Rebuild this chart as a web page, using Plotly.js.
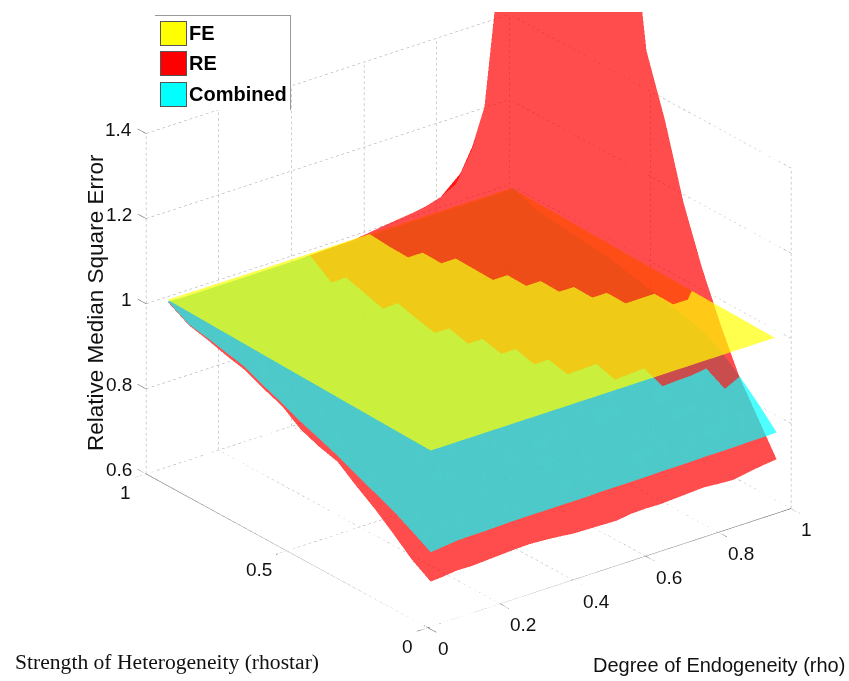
<!DOCTYPE html>
<html><head><meta charset="utf-8"><script src="https://cdn.plot.ly/plotly-3.0.1.min.js"></script>
<style>html,body{margin:0;padding:0;background:#fff}#g{width:849px;height:681px}</style></head><body><div id="g"></div>
<script>
const rhoVals=[.008,.04,.08,.12,.16,.2,.24,.28,.32,.36,.4,.44,.48,.52,.56,.6,.64,.68,.72,.76,.8,.84,.88,.92,.96];
const rstarVals=[0,.066,.132,.198,.264,.33,.396,.462,.528,.594,.66,.726,.792,.858,.934];
const feRho=[.008,.48,.955];
const feRstar=[0,.462,.934];
const feZ=[[1.014,1.014,1.014],[1.022,1.021,1.020],[1.031,1.030,1.028]];
const combZ=[
[.775,.778,.782,.783,.783,.784,.785,.785,.785,.785,.785,.785,.786,.786,.786,.786,.787,.787,.787,.788,.788,.788,.789,.789,.790],
[.800,.801,.801,.802,.803,.804,.804,.805,.806,.807,.808,.809,.811,.812,.813,.813,.814,.815,.815,.816,.818,.820,.823,.828,.835],
[.824,.825,.825,.827,.828,.828,.829,.830,.831,.833,.835,.836,.838,.839,.840,.841,.843,.843,.844,.846,.847,.850,.850,.856,.875],
[.843,.844,.845,.846,.847,.848,.849,.850,.852,.854,.855,.858,.860,.862,.863,.865,.866,.867,.868,.869,.872,.874,.875,.880,.910],
[.862,.863,.864,.864,.866,.867,.868,.868,.870,.872,.874,.877,.879,.880,.882,.883,.885,.885,.886,.888,.890,.892,.890,.900,.935],
[.882,.883,.883,.884,.884,.884,.885,.886,.887,.889,.890,.891,.893,.894,.896,.897,.897,.898,.899,.901,.904,.909,.917,.928,.945],
[.899,.900,.899,.900,.900,.900,.900,.900,.901,.903,.903,.905,.906,.907,.908,.908,.908,.910,.911,.914,.917,.921,.928,.939,.955],
[.915,.914,.915,.914,.915,.914,.915,.914,.915,.916,.917,.918,.919,.919,.920,.920,.921,.923,.924,.926,.929,.934,.940,.950,.965],
[.935,.934,.934,.933,.932,.932,.931,.931,.931,.931,.931,.931,.931,.931,.931,.933,.934,.936,.937,.939,.942,.946,.952,.961,.975],
[.952,.951,.950,.949,.948,.947,.946,.945,.945,.944,.944,.944,.944,.943,.945,.947,.948,.949,.950,.952,.955,.958,.964,.973,.985],
[.972,.970,.968,.967,.965,.963,.961,.959,.958,.957,.956,.955,.954,.955,.957,.958,.959,.960,.961,.962,.965,.968,.972,.980,.990],
[.982,.980,.979,.977,.974,.973,.971,.970,.968,.966,.966,.964,.966,.967,.968,.969,.970,.971,.971,.973,.974,.977,.981,.987,.995],
[.992,.991,.989,.988,.986,.984,.983,.981,.980,.979,.978,.977,.978,.979,.980,.981,.981,.982,.983,.984,.985,.987,.989,.994,1.000],
[1.000,.998,.998,.996,.996,.994,.993,.992,.991,.990,.989,.990,.990,.991,.992,.992,.992,.993,.993,.994,.995,.996,.998,1.001,1.005],
[1.028,1.025,1.025,1.025,1.025,1.025,1.025,1.025,1.025,1.025,1.025,1.025,1.025,1.025,1.025,1.025,1.025,1.025,1.025,1.025,1.025,1.025,1.025,1.025,1.026]];
const reZ=[
[.706,.708,.712,.711,.713,.715,.717,.718,.716,.713,.709,.708,.707,.706,.711,.712,.711,.713,.715,.717,.714,.712,.718,.723,.727],
[.733,.735,.737,.739,.740,.742,.744,.746,.747,.750,.751,.753,.754,.757,.758,.760,.763,.765,.767,.770,.773,.777,.782,.790,.800],
[.770,.772,.773,.775,.776,.778,.780,.781,.783,.784,.786,.787,.789,.791,.793,.795,.797,.800,.803,.806,.811,.817,.827,.840,.873],
[.805,.807,.809,.810,.812,.814,.816,.818,.819,.821,.823,.825,.827,.828,.831,.834,.837,.841,.845,.851,.858,.867,.872,.900,.970],
[.835,.836,.837,.838,.839,.842,.843,.845,.847,.849,.851,.853,.855,.858,.861,.865,.869,.873,.878,.886,.900,.925,.970,1.025,1.080],
[.868,.869,.870,.872,.873,.874,.875,.876,.878,.879,.880,.881,.882,.884,.885,.886,.888,.893,.904,.925,.970,1.040,1.085,1.135,1.210],
[.880,.881,.883,.884,.886,.888,.890,.891,.894,.895,.896,.898,.899,.901,.902,.905,.908,.925,.965,1.020,1.070,1.120,1.170,1.240,1.380],
[.897,.898,.900,.901,.903,.904,.906,.907,.909,.910,.912,.913,.915,.916,.918,.919,.928,.950,1.015,1.065,1.120,1.175,1.240,1.320,1.520],
[.928,.928,.928,.928,.928,.929,.929,.929,.929,.929,.930,.930,.930,.930,.931,.940,.965,1.012,1.060,1.120,1.180,1.250,1.330,1.430,1.900],
[.945,.944,.944,.943,.943,.942,.942,.942,.942,.941,.941,.941,.941,.943,.950,.970,1.000,1.040,1.100,1.170,1.240,1.320,1.420,1.540,2.100],
[.965,.963,.962,.960,.959,.957,.956,.955,.954,.953,.952,.952,.953,.960,.975,.995,1.020,1.060,1.120,1.190,1.270,1.360,1.470,1.610,2.200],
[.975,.974,.973,.971,.969,.968,.966,.965,.964,.963,.963,.962,.970,.980,1.000,1.020,1.040,1.075,1.130,1.200,1.280,1.370,1.480,1.650,2.250],
[.988,.987,.985,.984,.982,.980,.979,.977,.976,.975,.975,.976,.984,.993,1.020,1.035,1.045,1.075,1.120,1.190,1.270,1.370,1.490,1.700,2.280],
[.998,.996,.995,.994,.993,.992,.991,.990,.989,.988,.989,.992,.998,1.015,1.030,1.038,1.045,1.060,1.095,1.150,1.220,1.320,1.460,1.760,2.300],
[1.026,1.024,1.024,1.024,1.024,1.024,1.024,1.024,1.024,1.024,1.026,1.027,1.028,1.029,1.033,1.038,1.042,1.046,1.052,1.062,1.080,1.140,1.240,1.550,2.300]];
const rhoTicks=[0,.2,.4,.6,.8,1];
const rstarTicks=[0,.5,1];
const zTicks=[.6,.8,1,1.2,1.4];
const rhoLabels=['0','0.2','0.4','0.6','0.8','1'];
const rstarLabels=['0','0.5','1'];
const zLabels=['0.6','0.8','1','1.2','1.4'];
const legendNames=['FE','RE','Combined'];
const legendColors=['#ffff00','#ff0000','#00ffff'];

const zMin=.6,zMax=1.4,zTop=2.4;
const flatLight={ambient:1,diffuse:0,specular:0,fresnel:0,roughness:1};
function meshFrom(xs,ys,zs,keep,color){
  const x=[],y=[],z=[],i=[],j=[],k=[];
  ys.forEach((yv,a)=>xs.forEach((xv,b)=>{x.push(xv);y.push(yv);z.push(zs[a][b]);}));
  const n=xs.length;
  for(let a=0;a<ys.length-1;a++)for(let b=0;b<n-1;b++){
    if(!keep(a,b))continue;
    const p=a*n+b,q=p+1,r=p+n,s=r+1;
    i.push(p,p);j.push(q,s);k.push(s,r);
  }
  return {type:'mesh3d',x,y,z,i,j,k,color,opacity:.7,flatshading:true,lighting:flatLight,hoverinfo:'skip',showscale:false};
}
const cellMean=(m,a,b)=>(m[a][b]+m[a][b+1]+m[a+1][b]+m[a+1][b+1])/4;
const feAt=r=>{const c=r<feRstar[1]?0:1,t=(r-feRstar[c])/(feRstar[c+1]-feRstar[c]);return feZ[c][1]+(feZ[c+1][1]-feZ[c][1])*t;};
const reClass=(a,b)=>cellMean(reZ,a,b)<cellMean(combZ,a,b)?0:(cellMean(reZ,a,b)>feAt((rstarVals[a]+rstarVals[a+1])/2)?2:1);
const lastRow=rstarVals.length-1,lastCol=rhoVals.length-1;
// Painter order needs RE in three layers; vertices on a layer boundary sit on the surface it crosses.
const reShown=reZ.map((row,a)=>row.map((v,b)=>{
  if(a===lastRow||b===lastCol)return v;
  const seen=[0,0,0];
  [[a,b],[a,b-1],[a-1,b],[a-1,b-1]].forEach(c=>{if(c[0]>=0&&c[1]>=0)seen[reClass(c[0],c[1])]=1;});
  if(seen[2]&&(seen[0]||seen[1]))return feAt(rstarVals[a]);
  if(seen[0]&&seen[1])return combZ[a][b];
  return v;
}));
const traces=[
  meshFrom(rhoVals,rstarVals,reShown,(a,b)=>reClass(a,b)===0,'#ff0000'),
  meshFrom(rhoVals,rstarVals,combZ,()=>true,'#00ffff'),
  meshFrom(rhoVals,rstarVals,reShown,(a,b)=>reClass(a,b)===1,'#ff0000'),
  meshFrom(feRho,feRstar,feZ,()=>true,'#ffff00'),
  meshFrom(rhoVals,rstarVals,reShown,(a,b)=>reClass(a,b)===2,'#ff0000')
];
function linesTrace(segs,color,width){
  const x=[],y=[],z=[];
  segs.forEach(s=>{x.push(s[0],s[3],null);y.push(s[1],s[4],null);z.push(s[2],s[5],null);});
  return {type:'scatter3d',mode:'lines',x,y,z,line:{color,width},hoverinfo:'skip',showlegend:false,connectgaps:false};
}
const dotRho=.0075,dotR=.009,dotZ=.0065;
function dotted(s){
  const d=[s[3]-s[0],s[4]-s[1],s[5]-s[2]];
  const n=Math.ceil(Math.abs(d[0])/dotRho+Math.abs(d[1])/dotR+Math.abs(d[2])/dotZ);
  const out=[];
  for(let q=0;q<n;q+=2){const a=q/n,b=(q+1)/n;out.push([s[0]+d[0]*a,s[1]+d[1]*a,s[2]+d[2]*a,s[0]+d[0]*b,s[1]+d[1]*b,s[2]+d[2]*b]);}
  return out;
}
const grid=[];
rhoTicks.forEach(t=>{if(t>0)grid.push([t,0,zMin,t,1,zMin]);grid.push([t,1,zMin,t,1,zMax]);});
rstarTicks.forEach(t=>{if(t>0)grid.push([0,t,zMin,1,t,zMin]);grid.push([1,t,zMin,1,t,zMax]);});
zTicks.forEach(t=>{grid.push([0,1,t,1,1,t]);grid.push([1,0,t,1,1,t]);});
const axes=[[0,0,zMin,1,0,zMin],[0,0,zMin,0,1,zMin]];
const tl=.03;
rhoTicks.forEach(t=>axes.push([t,0,zMin,t,-tl,zMin]));
rstarTicks.forEach(t=>axes.push([0,t,zMin,-tl,t,zMin]));
zTicks.forEach(t=>axes.push([0,1,t,0,1+tl,t]));
traces.unshift(linesTrace(grid.flatMap(dotted),'#a0a0a0',1),linesTrace(axes,'#555555',1));

const tickFont={family:'Liberation Sans, Arial, sans-serif',size:19,color:'#111'};
const sceneAnn=[];
rhoTicks.forEach((t,n)=>sceneAnn.push({x:t,y:0,z:zMin,text:rhoLabels[n],showarrow:false,xanchor:'left',yanchor:'middle',xshift:8,yshift:-21,font:tickFont}));
rstarTicks.forEach((t,n)=>sceneAnn.push({x:0,y:t,z:zMin,text:rstarLabels[n],showarrow:false,xanchor:'right',yanchor:'middle',xshift:-13,yshift:-19,font:tickFont}));
zTicks.forEach((t,n)=>sceneAnn.push({x:0,y:1,z:t,text:zLabels[n],showarrow:false,xanchor:'right',yanchor:'middle',xshift:-12,yshift:4,font:tickFont}));

const W=849,H=681;
const px=v=>v/W, py=v=>1-v/H;
const ann=[];
function box(x,y,w,h,bg,border){ann.push({xref:'paper',yref:'paper',x:px(x),y:py(y),xanchor:'left',yanchor:'top',width:w,height:h,text:' ',showarrow:false,bgcolor:bg,bordercolor:border||bg,borderwidth:border?1:0,borderpad:0});}
box(155,15,136,95,'#ffffff');
box(155,15,136,1,'#999999');
box(290,15,1,95,'#999999');
const legendY=[33,63,94];
legendNames.forEach((n,q)=>{
  box(160,legendY[q]-12,25,23,legendColors[q],'#555555');
  ann.push({xref:'paper',yref:'paper',x:px(186.5),y:py(legendY[q]),xanchor:'left',yanchor:'middle',text:n,showarrow:false,font:{family:'Liberation Sans, Arial, sans-serif',size:20,color:'#000',weight:700}});
});
ann.push({xref:'paper',yref:'paper',x:px(13),y:py(662),xanchor:'left',yanchor:'middle',text:'Strength of Heterogeneity (rhostar)',showarrow:false,font:{family:'Liberation Serif, serif',size:21.6,color:'#111'}});
ann.push({xref:'paper',yref:'paper',x:px(591),y:py(665),xanchor:'left',yanchor:'middle',text:'Degree of Endogeneity (rho)',showarrow:false,font:{family:'Liberation Sans, Arial, sans-serif',size:20,color:'#111'}});
ann.push({xref:'paper',yref:'paper',x:px(95),y:py(303),xanchor:'center',yanchor:'middle',textangle:-90,text:'Relative Median Square Error',showarrow:false,font:{family:'Liberation Sans, Arial, sans-serif',size:22.5,color:'#111'}});

const hiddenAxis=r=>({range:r,showgrid:false,zeroline:false,showline:false,showticklabels:false,ticks:'',showbackground:false,showspikes:false,title:{text:''},autorange:false});
const layout={width:W,height:H,margin:{l:0,r:0,t:0,b:0},paper_bgcolor:'#fff',showlegend:false,annotations:ann,
 scene:{domain:{x:[0,1],y:[0,669/681]},aspectmode:'manual',aspectratio:{x:1.443,y:1.512,z:2.527},
  xaxis:hiddenAxis([-.05,1]),yaxis:hiddenAxis([-.05,1.05]),zaxis:hiddenAxis([zMin,zTop]),
  annotations:sceneAnn,bgcolor:'rgba(0,0,0,0)',
  camera:{projection:{type:'orthographic'},eye:{x:-1.9314,y:-2.3207,z:.6328},center:{x:-.2664,y:-.1727,z:-.6362},up:{x:0,y:0,z:1}}}};
Plotly.newPlot('g',traces,layout,{displayModeBar:false});
</script></body></html>
